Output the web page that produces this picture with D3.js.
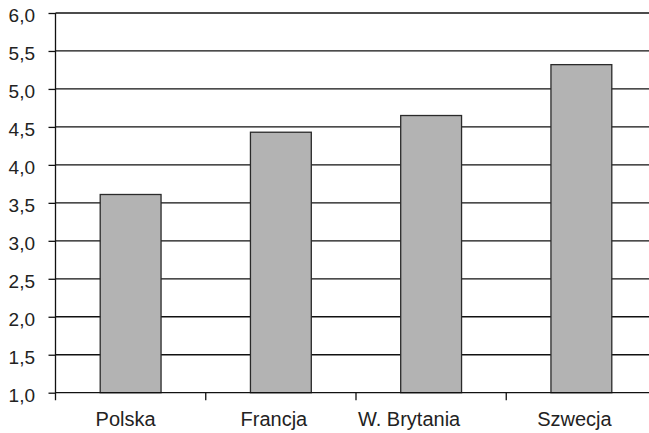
<!DOCTYPE html>
<html><head><meta charset="utf-8">
<script src="https://cdn.jsdelivr.net/npm/d3@7"></script>
<style>body{margin:0;background:#fff}svg{display:block}
svg text{font-family:"Liberation Sans",Arial,sans-serif;fill:#222}</style>
</head><body>
<svg id="c" width="649" height="433"></svg>
<script>
const categories = ["Polska", "Francja", "W. Brytania", "Szwecja"];
const values = [3.61, 4.43, 4.65, 5.32];
const yTicks = [1.0, 1.5, 2.0, 2.5, 3.0, 3.5, 4.0, 4.5, 5.0, 5.5, 6.0];

(function () {
const svg = d3.select("#c");
const mL = 55.5, mR = 656.5, mT = 13, mB = 392.7;
const x = d3.scaleBand().domain(categories).range([mL, mR]).padding(0);
const y = d3.scaleLinear().domain([1, 6]).range([mB, mT]);
const fmt = v => d3.format(".1f")(v).replace(".", ",");
// label nudges (layout only) to match the reference's label placement
const labelDx = [-5, -7, -22, -7];

// gridlines
svg.append("g").selectAll("line").data(yTicks.slice(1)).join("line")
  .attr("x1", mL).attr("x2", 649)
  .attr("y1", d => y(d)).attr("y2", d => y(d))
  .attr("stroke", "#111").attr("stroke-width", 1.3);

// bars
const bw = x.bandwidth() * 0.405;
svg.append("g").selectAll("rect").data(values).join("rect")
  .attr("x", (d, i) => x(categories[i]) + x.bandwidth() / 2 - bw / 2)
  .attr("y", d => y(d))
  .attr("width", bw)
  .attr("height", d => y(1) - y(d))
  .attr("fill", "#b3b3b3").attr("stroke", "#2a2a2a").attr("stroke-width", 1.3);

// y axis
const yAxis = d3.axisLeft(y).tickValues(yTicks).tickFormat(fmt).tickSize(7).tickPadding(13.5);
const gy = svg.append("g").attr("transform", `translate(${mL},0)`).call(yAxis);
gy.attr("font-size", null).attr("font-family", null);
gy.select(".domain").remove();
gy.append("line").attr("x1", 0).attr("x2", 0).attr("y1", mT).attr("y2", mB + 7.5)
  .attr("stroke", "#111").attr("stroke-width", 1.3);
gy.selectAll(".tick line").attr("stroke", "#111").attr("stroke-width", 1.3);
gy.selectAll(".tick text").style("font-size", "19px").attr("dy", "0.46em");

// x axis
const gx = svg.append("g").attr("transform", `translate(0,${mB})`);
gx.append("line").attr("x1", mL).attr("x2", 649).attr("y1", 0).attr("y2", 0)
  .attr("stroke", "#111").attr("stroke-width", 1.3);
const bounds = categories.slice(1).map(c => x(c));
gx.selectAll("line.t").data(bounds).join("line").attr("class", "t")
  .attr("x1", d => d).attr("x2", d => d).attr("y1", 0).attr("y2", 7.5)
  .attr("stroke", "#111").attr("stroke-width", 1.3);
gx.selectAll("text").data(categories).join("text")
  .attr("x", (d, i) => x(d) + x.bandwidth() / 2 + labelDx[i])
  .attr("y", 33.3)
  .attr("text-anchor", "middle")
  .style("font-size", "20px")
  .text(d => d);
})();
</script>
</body></html>
